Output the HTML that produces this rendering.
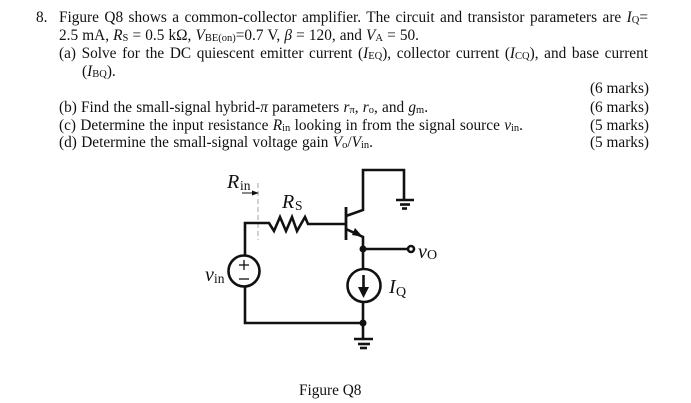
<!DOCTYPE html>
<html>
<head>
<meta charset="utf-8">
<style>
html,body{margin:0;padding:0;background:#fff;}
#p{position:relative;width:691px;height:403px;overflow:hidden;background:#fff;color:#111;font-family:"Liberation Serif",serif;font-size:15.3px;}
.l{position:absolute;height:18px;line-height:18px;white-space:nowrap;text-align:justify;text-align-last:justify;}
.r{position:absolute;right:42px;line-height:18px;white-space:nowrap;}
sub{font-size:10.5px;vertical-align:baseline;position:relative;top:1px;line-height:0;}
i sub{font-style:normal;}
svg{position:absolute;left:0;top:0;}
</style>
</head>
<body>
<div id="p">
<div class="l" style="left:36px;top:9px;">8.</div>
<div class="l" style="left:59px;top:9px;width:589px;">Figure Q8 shows a common-collector amplifier. The circuit and transistor parameters are <i>I<sub>Q</sub></i>=</div>
<div class="l" style="left:59px;top:27px;width:360px;">2.5 mA, <i>R<sub>S</sub></i> = 0.5 kΩ, <i>V<sub>BE(on)</sub></i>=0.7 V, <i>β</i> = 120, and <i>V<sub>A</sub></i> = 50.</div>
<div class="l" style="left:59px;top:45px;width:589px;">(a) Solve for the DC quiescent emitter current (<i>I<sub>EQ</sub></i>), collector current (<i>I<sub>CQ</sub></i>), and base current</div>
<div class="l" style="left:82px;top:63px;">(<i>I<sub>BQ</sub></i>).</div>
<div class="l" style="left:59px;top:99px;width:369px;">(b) Find the small-signal hybrid-<i>π</i> parameters <i>r<sub>π</sub></i>, <i>r<sub>o</sub></i>, and <i>g<sub>m</sub></i>.</div>
<div class="l" style="left:59px;top:117px;width:464px;">(c) Determine the input resistance <i>R<sub>in</sub></i> looking in from the signal source <i>v<sub>in</sub></i>.</div>
<div class="l" style="left:59px;top:134px;width:314px;">(d) Determine the small-signal voltage gain <i>V<sub>o</sub></i>/<i>V<sub>in</sub></i>.</div>
<div class="r" style="top:80px;">(6 marks)</div>
<div class="r" style="top:99px;">(6 marks)</div>
<div class="r" style="top:117px;">(5 marks)</div>
<div class="r" style="top:134px;">(5 marks)</div>

<svg width="691" height="403" viewBox="0 0 691 403" font-family="'Liberation Serif',serif" fill="#111">
<line x1="258" y1="183" x2="258" y2="240" stroke="#c4c4c4" stroke-width="1.500" stroke-dasharray="5 3"/>
<line x1="242" y1="193" x2="254" y2="193" stroke="#111" stroke-width="1"/>
<polygon points="259,193 252,190.500 252,195.500" fill="#111"/>
<g fill="none" stroke="#111" stroke-width="2.600">
<polyline points="245,255 245,223 269,223 274,231 280,217 286,231 292,217 297,231 305,217 308,224 346,224"/>
<polyline points="245,287 245,323 363,323"/>
<circle cx="244" cy="271" r="15.500"/>
<circle cx="364" cy="285.500" r="16.500"/>
<line x1="346" y1="207" x2="346" y2="240" stroke-width="2.800"/>
<polyline points="346,216 363,210 363,170 404,170 404,200"/>
<polyline points="346,229 363,237 363,269"/>
<line x1="363" y1="249" x2="408" y2="249"/>
<line x1="363" y1="302" x2="363" y2="339"/>
<line x1="363.500" y1="275" x2="363.500" y2="290"/>
<line x1="396" y1="200" x2="414" y2="200"/>
<line x1="400" y1="204.500" x2="410" y2="204.500"/>
<line x1="402" y1="208.500" x2="407" y2="208.500"/>
<line x1="354" y1="339" x2="373" y2="339"/>
<line x1="358" y1="344" x2="370" y2="344"/>
<line x1="360" y1="348" x2="367" y2="348"/>
<circle cx="411" cy="249" r="3"/>
</g>
<g fill="none" stroke="#111" stroke-width="1.300">
<line x1="239" y1="265" x2="249" y2="265"/>
<line x1="244" y1="260" x2="244" y2="270"/>
<line x1="239" y1="279" x2="249" y2="279"/>
</g>
<polygon points="363.500,298 358,287 369,287" fill="#111"/>
<polygon points="363,237 352,235 355,228" fill="#111"/>
<circle cx="363" cy="249" r="3.500" fill="#111"/>
<circle cx="363" cy="323" r="3.500" fill="#111"/>

<text x="227" y="188" font-size="20" font-style="italic">R</text>
<text x="240" y="190" font-size="13.500">in</text>
<text x="282" y="208" font-size="20" font-style="italic">R</text>
<text x="295" y="210" font-size="13.500">S</text>
<text x="205" y="281" font-size="20" font-style="italic">v</text>
<text x="214" y="283" font-size="13.500">in</text>
<text x="418" y="258" font-size="20" font-style="italic">v</text>
<text x="427" y="259" font-size="14">O</text>
<text x="389" y="293" font-size="20" font-style="italic">I</text>
<text x="396" y="296" font-size="14">Q</text>
<text x="299" y="395" font-size="15.300">Figure Q8</text>
</svg>
</div>
</body>
</html>
